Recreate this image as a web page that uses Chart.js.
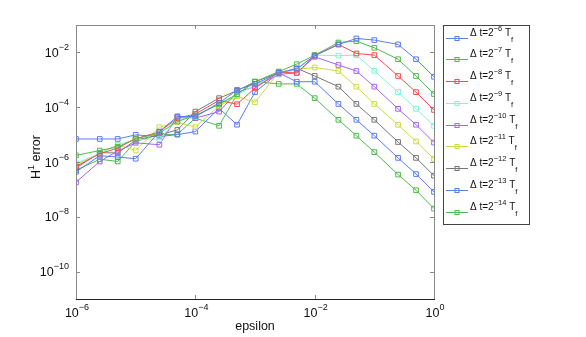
<!DOCTYPE html>
<html>
<head>
<meta charset="utf-8">
<script src="https://cdn.jsdelivr.net/npm/chart.js@4.4.1/dist/chart.umd.min.js"></script>
<style>
  html, body { margin: 0; padding: 0; background: #fff; }
  #wrap { width: 586px; height: 337px; }
</style>
</head>
<body>
<div id="wrap"><canvas id="errChart" width="586" height="337"></canvas></div>
<script>
// epsilon values on the x axis
const epsilon = [1e-6, 2.5e-6, 5e-6, 1e-5, 2.5e-5, 5e-5, 1e-4, 2.5e-4, 5e-4, 1e-3,
                 2.5e-3, 5e-3, 1e-2, 2.5e-2, 5e-2, 1e-1, 0.25, 0.5, 1];

// time step exponents: dt = 2^-k Tf
const dtExponents = [6, 7, 8, 9, 10, 11, 12, 13, 14];

// log10 of the H1 error
const err6  = [-6.36, -5.77, -5.82, -5.88, -4.89, -4.34, -4.34, -3.85, -3.37, -3.15, -2.75, -2.60, -2.12, -1.71, -1.49, -1.55, -1.71, -2.25, -2.89];
const err7  = [-5.76, -5.58, -5.45, -5.15, -4.95, -4.52, -4.30, -3.90, -3.53, -3.07, -2.70, -2.43, -2.10, -1.64, -1.59, -1.83, -2.25, -2.86, -3.52];
const err8  = [-6.16, -5.70, -5.49, -5.15, -4.90, -4.40, -4.25, -3.75, -3.89, -3.30, -2.72, -2.75, -2.12, -1.71, -2.04, -2.10, -2.86, -3.45, -4.10];
const err9  = [-6.05, -5.68, -5.37, -5.18, -5.16, -4.45, -4.35, -3.85, -3.55, -3.20, -2.78, -2.62, -2.10, -2.12, -2.10, -2.67, -3.45, -4.06, -4.68];
const err10 = [-6.74, -5.98, -5.60, -5.30, -5.37, -4.34, -4.40, -4.16, -3.45, -3.25, -2.80, -2.75, -2.16, -2.46, -2.68, -3.25, -4.06, -4.64, -5.29];
const err11 = [-6.10, -5.70, -5.37, -5.58, -4.73, -4.55, -4.73, -3.95, -3.60, -3.82, -2.72, -2.62, -2.55, -2.68, -3.25, -3.88, -4.64, -5.25, -5.89];
const err12 = [-6.22, -5.66, -5.67, -5.20, -5.01, -4.83, -4.16, -3.67, -3.40, -3.07, -2.75, -2.58, -2.86, -3.25, -3.88, -4.46, -5.27, -5.85, -6.50];
const err13 = [-5.16, -5.16, -5.16, -5.01, -5.07, -5.00, -4.89, -4.04, -4.64, -3.45, -2.75, -3.07, -3.07, -3.88, -4.46, -5.04, -5.85, -6.44, -7.09];
const err14 = [-6.30, -5.90, -5.98, -5.25, -5.00, -4.99, -4.40, -4.68, -3.53, -3.07, -3.15, -3.15, -3.67, -4.46, -5.04, -5.64, -6.46, -7.03, -7.70];

const lineColors = ["#5a7cf5", "#4cbc4c", "#ff4a4a", "#80f5d0", "#a464f2", "#ccdc40", "#777777", "#5a7cf5", "#4cbc4c"];

// tick exponents
const xTickExp = [-6, -4, -2, 0];
const yTickExp = [-10, -8, -6, -4, -2];

const allErrors = [err6, err7, err8, err9, err10, err11, err12, err13, err14];
const FONT = '"Liberation Sans", Arial, sans-serif';

const datasets = allErrors.map((errs, i) => ({
    label: "dt=2^-" + dtExponents[i] + " Tf",
    data: errs.map((e, j) => ({ x: epsilon[j], y: Math.pow(10, e) })),
    borderColor: lineColors[i],
    backgroundColor: "rgba(0,0,0,0)",
    pointBackgroundColor: "rgba(0,0,0,0)",
    pointBorderColor: lineColors[i],
    pointStyle: "rect",
    pointRadius: 3.3,
    pointBorderWidth: 1,
    borderWidth: 1,
    tension: 0
}));

// text with a raised exponent, e.g. 10^-4
function powWidth(ctx, base, exp, bf, ef) {
    ctx.font = bf; let w = ctx.measureText(base).width;
    ctx.font = ef; w += ctx.measureText(exp).width;
    return w;
}
function drawPow(ctx, x, y, base, exp, bf, ef, rise) {
    ctx.font = bf; ctx.fillText(base, x, y);
    let wb = ctx.measureText(base).width;
    ctx.font = ef; ctx.fillText(exp, x + wb, y - rise);
    return wb + ctx.measureText(exp).width;
}

const axesPlugin = {
    id: "axesPlugin",
    afterDatasetsDraw(chart) {
        const ctx = chart.ctx;
        const a = chart.chartArea;
        const xs = chart.scales.x, ys = chart.scales.y;
        ctx.save();
        ctx.textAlign = "left";
        ctx.textBaseline = "alphabetic";
        ctx.fillStyle = "#111";

        // frame
        ctx.lineWidth = 1;
        ctx.strokeStyle = "#8a8a8a";
        ctx.strokeRect(Math.round(a.left) + 0.5, Math.round(a.top) + 0.5,
                       Math.round(a.right - a.left), Math.round(a.bottom - a.top));
        ctx.strokeStyle = "#222";
        ctx.beginPath();
        ctx.moveTo(a.left, Math.round(a.bottom) + 0.5);
        ctx.lineTo(a.right + 1, Math.round(a.bottom) + 0.5);
        ctx.stroke();

        // ticks, pointing inwards
        ctx.strokeStyle = "#8a8a8a";
        ctx.beginPath();
        xTickExp.forEach(e => {
            const px = Math.round(xs.getPixelForValue(Math.pow(10, e))) + 0.5;
            ctx.moveTo(px, a.bottom); ctx.lineTo(px, a.bottom - 4);
            ctx.moveTo(px, a.top); ctx.lineTo(px, a.top + 4);
        });
        yTickExp.forEach(e => {
            const py = Math.round(ys.getPixelForValue(Math.pow(10, e))) + 0.5;
            ctx.moveTo(a.left, py); ctx.lineTo(a.left + 4, py);
            ctx.moveTo(a.right, py); ctx.lineTo(a.right - 4, py);
        });
        ctx.stroke();

        const bf = "12.5px " + FONT, ef = "9px " + FONT;
        // x tick labels
        xTickExp.forEach(e => {
            const px = xs.getPixelForValue(Math.pow(10, e));
            const exp = e < 0 ? "\u2212" + (-e) : String(e);
            const w = powWidth(ctx, "10", exp, bf, ef);
            drawPow(ctx, px - w / 2 + 1, a.bottom + 17.5, "10", exp, bf, ef, 7);
        });
        // y tick labels
        yTickExp.forEach(e => {
            const py = ys.getPixelForValue(Math.pow(10, e));
            const exp = "\u2212" + (-e);
            const w = powWidth(ctx, "10", exp, bf, ef);
            drawPow(ctx, a.left - 7 - w, py + 4.5, "10", exp, bf, ef, 7);
        });

        // axis titles
        ctx.font = bf;
        ctx.textAlign = "center";
        ctx.fillText("epsilon", (a.left + a.right) / 2, 329.5);
        ctx.textAlign = "left";
        ctx.save();
        ctx.translate(39.5, 157);
        ctx.rotate(-Math.PI / 2);
        ctx.font = bf; const wH = ctx.measureText("H").width;
        ctx.font = ef; const w1 = ctx.measureText("1").width;
        ctx.font = bf; const wE = ctx.measureText(" error").width;
        let tx = -(wH + w1 + wE) / 2;
        ctx.font = bf; ctx.fillText("H", tx, 0); tx += wH;
        ctx.font = ef; ctx.fillText("1", tx, -6); tx += w1;
        ctx.font = bf; ctx.fillText(" error", tx, 0);
        ctx.restore();

        // legend box
        ctx.strokeStyle = "#444";
        ctx.strokeRect(443.5, 25.5, 86, 199);
        const lf = "10px " + FONT, sf = "7.5px " + FONT;
        chart.data.datasets.forEach((ds, i) => {
            const ly = Math.round(37.7 + i * 21.75) + 0.5;
            ctx.strokeStyle = ds.borderColor;
            ctx.lineWidth = 1;
            ctx.beginPath();
            ctx.moveTo(446, ly); ctx.lineTo(468, ly);
            ctx.stroke();
            ctx.strokeRect(455, ly - 2, 4, 4);
            ctx.fillStyle = "#111";
            let x = 470;
            x += drawPow(ctx, x, ly - 2.5, "\u0394 t=2", "\u2212" + dtExponents[i], lf, sf, 5);
            ctx.font = lf; ctx.fillText(" T", x, ly - 2.5);
            x += ctx.measureText(" T").width;
            ctx.font = sf; ctx.fillText("f", x, ly + 3);
        });
        ctx.restore();
    }
};

new Chart(document.getElementById("errChart").getContext("2d"), {
    type: "line",
    data: { datasets: datasets },
    options: {
        responsive: false,
        animation: false,
        devicePixelRatio: 1,
        layout: { padding: { left: 76, top: 25, right: 152, bottom: 38 } },
        plugins: { legend: { display: false }, tooltip: { enabled: false } },
        scales: {
            x: { type: "logarithmic", min: 1e-6, max: 1, display: false },
            y: { type: "logarithmic", min: 1e-11, max: 1e-1, display: false }
        }
    },
    plugins: [axesPlugin]
});
</script>
</body>
</html>
